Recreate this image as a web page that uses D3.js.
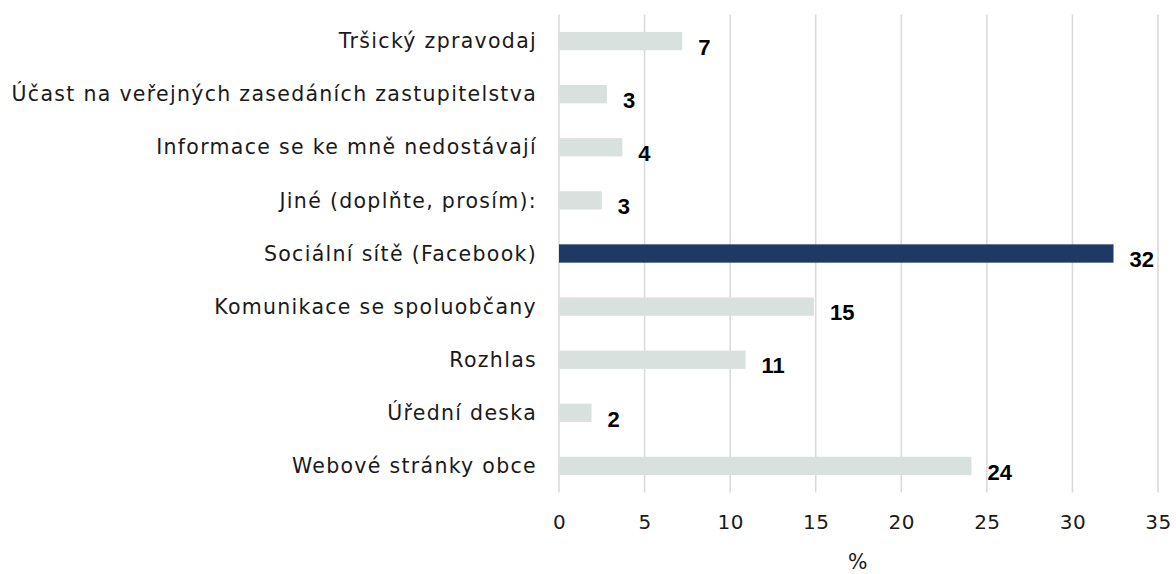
<!DOCTYPE html>
<html>
<head>
<meta charset="utf-8">
<script src="https://cdn.jsdelivr.net/npm/d3@7"></script>
<style>
  body { margin: 0; background: #fff; }
  .cat { font-family: "Century Gothic", "URW Gothic", "DejaVu Sans", sans-serif; font-size: 20.5px; letter-spacing: 1.3px; fill: #1a1a1a; }
  .tick text { font-family: "Century Gothic", "URW Gothic", "DejaVu Sans", sans-serif; font-size: 20px; letter-spacing: 0.5px; fill: #1a1a1a; }
  .val { font-family: "Liberation Sans", Arial, sans-serif; font-weight: bold; font-size: 22px; fill: #000; }
</style>
</head>
<body>
<svg id="chart"></svg>
<script>
// categories top -> bottom
const categories = [
    'Tršický zpravodaj',
    'Účast na veřejných zasedáních zastupitelstva',
    'Informace se ke mně nedostávají',
    'Jiné (doplňte, prosím):',
    'Sociální sítě (Facebook)',
    'Komunikace se spoluobčany',
    'Rozhlas',
    'Úřední deska',
    'Webové stránky obce'
];
const values = [7.2, 2.8, 3.7, 2.5, 32.4, 14.9, 10.9, 1.9, 24.1];
const valueLabels = ['7', '3', '4', '3', '32', '15', '11', '2', '24'];
const highlight = 'Sociální sítě (Facebook)';
const xTicks = [0, 5, 10, 15, 20, 25, 30, 35];
const xTitle = '%';

const width = 1176, height = 574;
const margin = { top: 14.5, right: 18, bottom: 81.5, left: 559 };
const innerW = width - margin.left - margin.right;
const innerH = height - margin.top - margin.bottom;

const svg = d3.select('#chart')
    .attr('width', width)
    .attr('height', height);

const chart = svg.append('g')
    .attr('transform', `translate(${margin.left},${margin.top})`);

const xScale = d3.scaleLinear()
    .domain([0, 35])
    .range([0, innerW]);

const yScale = d3.scaleBand()
    .domain(categories)
    .range([0, innerH])
    .paddingInner(0.655)
    .paddingOuter(0.3275);

// gridlines
chart.selectAll('.grid')
    .data(xTicks)
    .join('line')
    .attr('class', 'grid')
    .attr('x1', d => xScale(d))
    .attr('x2', d => xScale(d))
    .attr('y1', 0)
    .attr('y2', innerH)
    .attr('stroke', '#d9d9d9')
    .attr('stroke-width', 1.5);

// x axis (labels only)
const xAxis = d3.axisBottom(xScale)
    .tickValues(xTicks)
    .tickSize(0)
    .tickPadding(22);

chart.append('g')
    .attr('transform', `translate(0,${innerH})`)
    .call(xAxis)
    .call(g => g.select('.domain').remove());

// bars
chart.selectAll('.bar')
    .data(categories)
    .join('rect')
    .attr('class', 'bar')
    .attr('x', 0)
    .attr('y', d => yScale(d))
    .attr('height', yScale.bandwidth())
    .attr('width', (d, i) => xScale(values[i]))
    .attr('fill', d => d === highlight ? '#203864' : '#d9e1de');

// value labels
chart.selectAll('.val')
    .data(categories)
    .join('text')
    .attr('class', 'val')
    .attr('x', (d, i) => xScale(values[i]) + 16)
    .attr('y', d => yScale(d) + yScale.bandwidth() / 2 + 6)
    .attr('dy', '0.35em')
    .text((d, i) => valueLabels[i]);

// category labels
chart.selectAll('.cat')
    .data(categories)
    .join('text')
    .attr('class', 'cat')
    .attr('x', -22)
    .attr('y', d => yScale(d) + yScale.bandwidth() / 2)
    .attr('dy', '0.35em')
    .attr('text-anchor', 'end')
    .text(d => d);

// axis title
chart.append('text')
    .attr('class', 'cat')
    .attr('x', xScale(17.5))
    .attr('y', innerH + 76)
    .attr('text-anchor', 'middle')
    .text(xTitle);
</script>
</body>
</html>
